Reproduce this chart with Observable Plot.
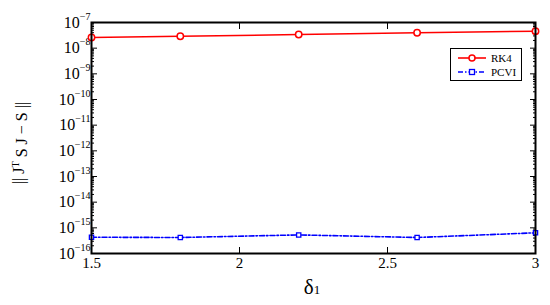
<!DOCTYPE html>
<html><head><meta charset="utf-8">
<script src="https://cdn.jsdelivr.net/npm/d3@7"></script>
<script src="https://cdn.jsdelivr.net/npm/@observablehq/plot@0.6"></script>
<style>
body{margin:0;background:#fff}
#wrap{position:relative;width:550px;height:305px;font-family:"Liberation Serif","Times New Roman",serif}
#wrap svg, #wrap svg text{font-family:"Liberation Serif","Times New Roman",serif !important}
#legend{position:absolute;left:450px;top:48px;width:70px;height:31px;border:1.5px solid #000;background:#fff;font-size:11px}
#legend .row{position:absolute;left:0;height:14px;display:flex;align-items:center}
#legend svg{margin-left:6px;margin-right:4px}
</style>
</head><body><div id="wrap"></div>
<script>
const delta = [1.5, 1.8, 2.2, 2.6, 3.0];
const rk4 = [2.6e-8, 2.9e-8, 3.4e-8, 4.0e-8, 4.6e-8];
const pcvi = [4.3e-16, 4.2e-16, 5.3e-16, 4.2e-16, 6.4e-16];
const seriesNames = ["RK4", "PCVI"];
const seriesColors = ["#ff0000", "#0000ff"];
const xTicks = [1.5, 2, 2.5, 3];
const yMajor = [1e-16, 1e-15, 1e-14, 1e-13, 1e-12, 1e-11, 1e-10, 1e-9, 1e-8, 1e-7];

const rows = [];
delta.forEach((d, i) => {
  rows.push({x: d, y: rk4[i], s: seriesNames[0]});
  rows.push({x: d, y: pcvi[i], s: seriesNames[1]});
});
const rkRows = rows.filter(r => r.s === "RK4");
const pcRows = rows.filter(r => r.s === "PCVI");
const yDomain = [yMajor[0], yMajor[yMajor.length - 1]];
const yMinor = d3.scaleLog().domain(yDomain).ticks().filter(v => !yMajor.some(m => Math.abs(v / m - 1) < 1e-9));

const font = '"Liberation Serif","Times New Roman",serif';
const chart = Plot.plot({
  width: 550, height: 305,
  marginLeft: 91, marginRight: 15, marginTop: 22, marginBottom: 52,
  style: {fontFamily: font, background: "#fff", color: "#000"},
  x: {domain: [1.5, 3]},
  y: {type: "log", domain: yDomain},
  marks: [
    Plot.axisY(yMajor, {anchor: "left", tickSize: -6, tickFormat: () => "", label: null}),
    Plot.axisY(yMinor, {anchor: "left", tickSize: -3, tickFormat: () => "", label: null}),
    Plot.axisY(yMajor, {anchor: "right", tickSize: -6, tickFormat: () => "", label: null}),
    Plot.axisY(yMinor, {anchor: "right", tickSize: -3, tickFormat: () => "", label: null}),
    Plot.axisY(yMajor, {anchor: "left", tickSize: 0, tickPadding: 1, fontSize: 16, label: null,
      tickFormat: d => "10|" + Math.round(Math.log10(d))}),
    Plot.axisX(xTicks, {anchor: "bottom", tickSize: -6, tickFormat: () => "", label: null}),
    Plot.axisX(xTicks, {anchor: "top", tickSize: -6, tickFormat: () => "", label: null}),
    Plot.axisX(xTicks, {anchor: "bottom", tickSize: 0, tickPadding: 4, fontSize: 15, label: null, tickFormat: d => String(d)}),
    Plot.line(rkRows, {x: "x", y: "y", stroke: seriesColors[0], strokeWidth: 1.5}),
    Plot.dot(rkRows, {x: "x", y: "y", stroke: seriesColors[0], fill: "#fff", r: 3.2, strokeWidth: 1.5}),
    Plot.line(pcRows, {x: "x", y: "y", stroke: seriesColors[1], strokeWidth: 1.6, strokeDasharray: "5,2,1.5,2"}),
    Plot.dot(pcRows, {x: "x", y: "y", symbol: "square", stroke: seriesColors[1], fill: "#fff", r: 2.4, strokeWidth: 1.3}),
    Plot.frame({stroke: "#000", strokeWidth: 2})
  ]
});

// superscript exponents on y tick labels
d3.select(chart).selectAll("text").each(function() {
  const t = this.textContent;
  if (/^10\|/.test(t)) {
    const e = t.split("|")[1].replace("-", "\u2212");
    const el = d3.select(this);
    el.text("10");
    el.append("tspan").attr("dy", "-0.8em").attr("font-size", 10).text(e);
  }
});

const svg = d3.select(chart);
// y-axis title
const yt = svg.append("text")
  .attr("transform", "translate(24,143) rotate(-90)")
  .attr("text-anchor", "middle")
  .attr("font-size", 16);
yt.append("tspan").text("|| J");
yt.append("tspan").attr("dy", "-0.5em").attr("font-size", 10).text("T");
yt.append("tspan").attr("dy", "0.5em").text(" S J \u2212 S ||");
// x-axis title
const xt = svg.append("text")
  .attr("x", 312).attr("y", 294)
  .attr("text-anchor", "middle")
  .attr("font-size", 21);
xt.append("tspan").text("\u03b4");
xt.append("tspan").attr("font-size", 13).text("1");

const wrap = document.getElementById("wrap");
wrap.appendChild(chart);

// legend
const leg = document.createElement("div");
leg.id = "legend";
seriesNames.forEach((name, i) => {
  const row = document.createElement("div");
  row.className = "row";
  row.style.top = (i === 0 ? 2 : 16) + "px";
  const dash = i === 0 ? "" : 'stroke-dasharray="5,2,1.5,2"';
  const marker = i === 0
    ? `<circle cx="15" cy="7" r="3" fill="#fff" stroke="${seriesColors[i]}" stroke-width="1.5"/>`
    : `<rect x="12.5" y="4.5" width="5" height="5" fill="#fff" stroke="${seriesColors[i]}" stroke-width="1.3"/>`;
  row.innerHTML = `<svg width="30" height="14"><line x1="1" x2="29" y1="7" y2="7" stroke="${seriesColors[i]}" stroke-width="1.6" ${dash}/>${marker}</svg><span>${name}</span>`;
  leg.appendChild(row);
});
wrap.appendChild(leg);
</script>
</body></html>
